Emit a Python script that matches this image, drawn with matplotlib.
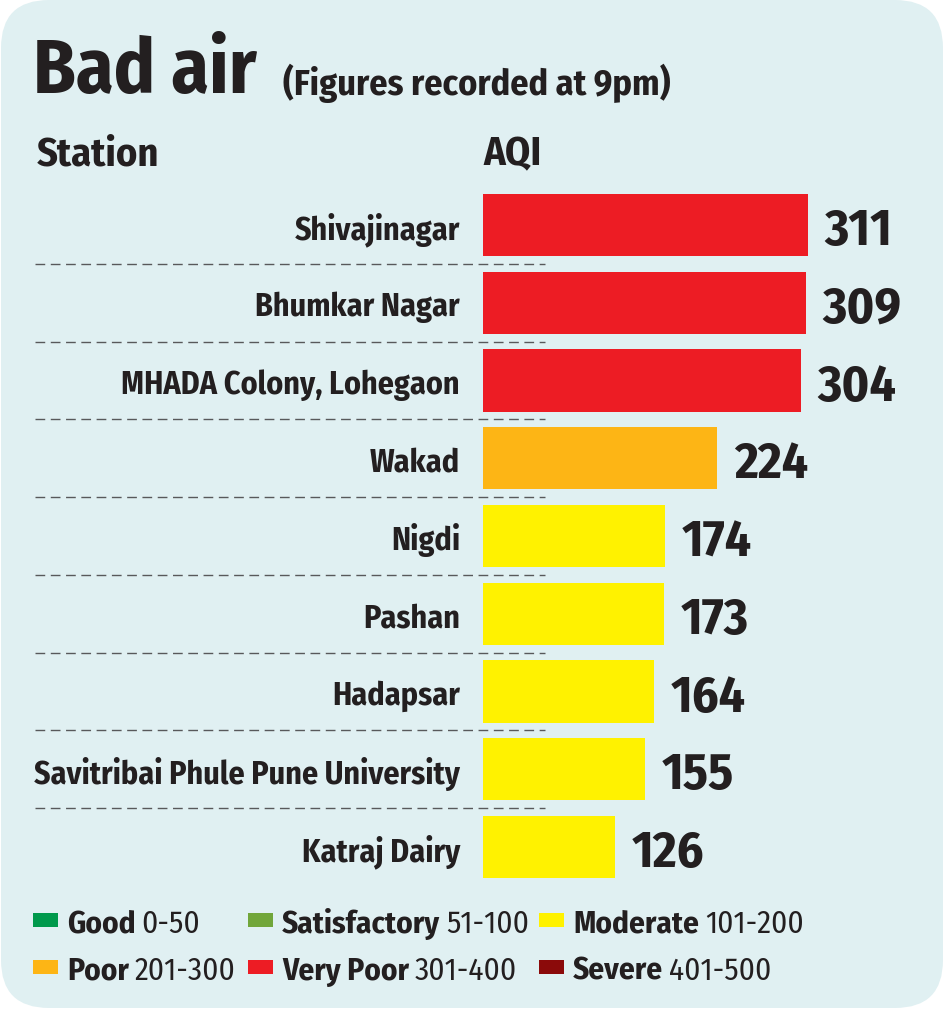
import matplotlib
matplotlib.use("Agg")
import matplotlib.pyplot as plt
from matplotlib.patches import FancyBboxPatch, Rectangle
from matplotlib.transforms import blended_transform_factory

# data
stations = ["Shivajinagar", "Bhumkar Nagar", "MHADA Colony, Lohegaon", "Wakad",
            "Nigdi", "Pashan", "Hadapsar", "Savitribai Phule Pune University",
            "Katraj Dairy"]
aqi = [311, 309, 304, 224, 174, 173, 164, 155, 126]

bands = ["Good", "Satisfactory", "Moderate", "Poor", "Very Poor", "Severe"]
band_ranges = ["0-50", "51-100", "101-200", "201-300", "301-400", "401-500"]
band_upper = [50, 100, 200, 300, 400, 500]
band_colors = ["#00994c", "#71a63a", "#fff200", "#fdb515", "#ed1c24", "#8b0a0a"]

plt.rcParams["font.family"] = ["Fira Sans Condensed", "Liberation Sans", "DejaVu Sans"]
INK = "#231f20"
BG = "#e0f0f2"


def band_color(v):
    for u, c in zip(band_upper, band_colors):
        if v <= u:
            return c
    return band_colors[-1]


W, H = 944, 1012
fig = plt.figure(figsize=(W / 100, H / 100), dpi=100)
fig.patch.set_facecolor("white")

# pixel-space layer for background, titles and legend
bg = fig.add_axes([0, 0, 1, 1], zorder=-1)
bg.set_xlim(0, W)
bg.set_ylim(H, 0)
bg.axis("off")
bg.add_patch(FancyBboxPatch((1, 1), W - 2, H - 4,
                            boxstyle="round,pad=0,rounding_size=48",
                            fc=BG, ec="none"))

bg.text(33, 93, "Bad air", fontsize=55, fontweight="bold", color=INK)
bg.text(283, 95, "(Figures recorded at 9pm)", fontsize=26, fontweight="bold", color=INK)
bg.text(37, 165, "Station", fontsize=29, fontweight="bold", color=INK)
bg.text(483, 165, "AQI", fontsize=29, fontweight="bold", color=INK)

# bars
px_per_unit = 1.045
ax = fig.add_axes([483 / W, 1 - 887 / H, (W - 483) / W, 700 / H])
ax.set_xlim(0, (W - 483) / px_per_unit)
ax.set_ylim(len(aqi) - 0.5, -0.5)
ax.axis("off")
pos = list(range(len(aqi)))
ax.barh(pos, aqi, height=0.8, color=[band_color(v) for v in aqi])
for i, v in enumerate(aqi):
    ax.text(v + 16, i, str(v), fontsize=37, fontweight="bold",
            color=INK, va="center_baseline", ha="left")

lab = blended_transform_factory(bg.transData, ax.transData)
for i, name in enumerate(stations):
    ax.text(460, i, name, transform=lab, fontsize=23, fontweight="bold",
            color=INK, ha="right", va="center_baseline")
for i in range(len(aqi) - 1):
    ax.plot([35, 545], [i + 0.5, i + 0.5], transform=lab, color="#58595b",
            lw=1.0, ls=(0, (7, 4)), clip_on=False)

# legend
fig.canvas.draw()
renderer = fig.canvas.get_renderer()
col_x = [33, 248, 539]
row_y = [921, 968]
for k, (name, rng, col) in enumerate(zip(bands, band_ranges, band_colors)):
    x = col_x[k % 3]
    y = row_y[k // 3]
    bg.add_patch(Rectangle((x, y - 7), 25, 14, fc=col, ec="none"))
    t = bg.text(x + 34, y, name, fontsize=22.5, fontweight="bold", color=INK,
                va="center_baseline")
    bb = t.get_window_extent(renderer)
    bg.text(bb.x1 + 6, y, rng, fontsize=22.5, color=INK, va="center_baseline")

fig.savefig("out.png", dpi=100, facecolor="white")
